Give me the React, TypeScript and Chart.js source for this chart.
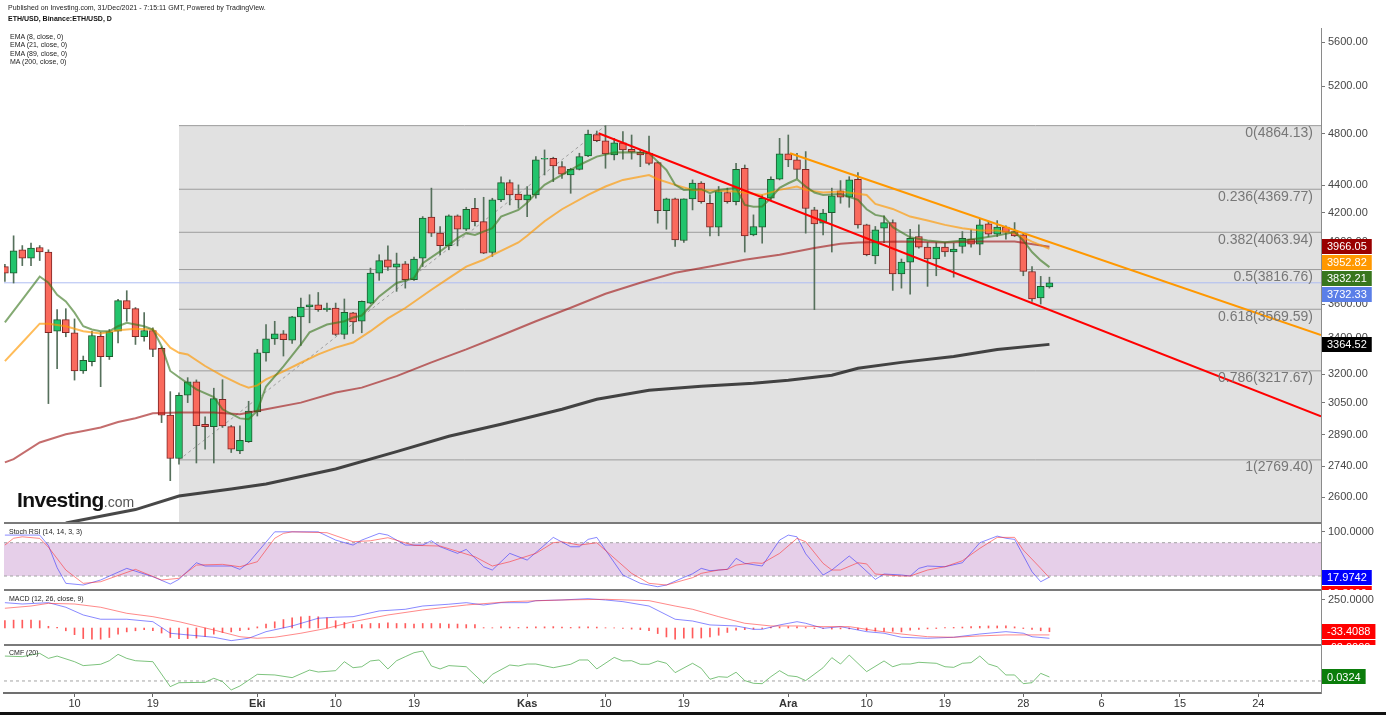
import React, { useEffect, useRef } from 'react';
import { Chart, registerables } from 'chart.js';

Chart.register(...registerables);

const FONT = '"Liberation Sans", Arial, Helvetica, sans-serif';

// ---------- x axis: day index, 0 = 1 Sep 2021 ----------
const xMinDay = 0.897;
const xMaxDay = 152.2;
const xTickDays = [9, 18, 30, 39, 48, 61, 70, 79, 91, 100, 109, 118, 127, 136, 145];
const xTickLabels = ['10', '19', 'Eki', '10', '19', 'Kas', '10', '19', 'Ara', '10', '19', '28', '6', '15', '24'];
const monthLabels = ['Eki', 'Kas', 'Ara'];

// ---------- price axis ----------
const priceMin = 2490;
const priceMax = 5734;
const priceTicks = [2600, 2740, 2890, 3050, 3200, 3400, 3600, 4000, 4200, 4400, 4800, 5200, 5600];

// ---------- daily candles ETH/USD (2 Sep 2021 .. 31 Dec 2021) ----------
const firstCandleDay = 1;
const opens = [3836, 3794, 3946, 3891, 3961, 3931, 3440, 3508, 3431, 3217, 3268, 3411, 3295, 3440, 3622, 3573, 3408, 3444, 3342, 2986, 2776, 3088, 3159, 2940, 2929, 3067, 2929, 2812, 2856, 3002, 3317, 3396, 3425, 3388, 3524, 3583, 3597, 3567, 3577, 3421, 3548, 3498, 3607, 3794, 3880, 3832, 3854, 3752, 3891, 4169, 4058, 3974, 4178, 4085, 4232, 4138, 3928, 4292, 4419, 4335, 4292, 4328, 4597, 4604, 4539, 4476, 4519, 4622, 4791, 4742, 4630, 4726, 4674, 4651, 4643, 4570, 4215, 4299, 4008, 4299, 4415, 4268, 4099, 4346, 4280, 4527, 4046, 4099, 4304, 4444, 4638, 4591, 4519, 4220, 4127, 4201, 4358, 4311, 4444, 4115, 3906, 4092, 4131, 3789, 3865, 4035, 3964, 3885, 3964, 3931, 3968, 4017, 3984, 4122, 4051, 4099, 4069, 4046, 3804, 3638, 3706];
const highs = [3850, 4040, 3974, 3990, 3974, 3946, 3567, 3573, 3512, 3299, 3440, 3434, 3450, 3630, 3683, 3580, 3550, 3460, 3350, 3107, 3101, 3181, 3169, 2978, 3125, 3170, 2935, 2933, 3057, 3336, 3479, 3498, 3444, 3527, 3638, 3658, 3672, 3607, 3607, 3632, 3551, 3620, 3826, 3913, 3972, 3924, 3869, 3898, 4173, 4378, 4104, 4185, 4185, 4239, 4304, 4311, 4304, 4463, 4439, 4402, 4390, 4617, 4669, 4612, 4578, 4527, 4643, 4828, 4820, 4864, 4761, 4815, 4788, 4674, 4780, 4575, 4305, 4305, 4300, 4439, 4426, 4328, 4390, 4378, 4565, 4552, 4185, 4328, 4463, 4761, 4788, 4643, 4656, 4239, 4225, 4378, 4434, 4463, 4495, 4120, 4104, 4178, 4150, 3885, 4085, 4115, 3994, 3994, 3994, 3990, 4069, 4081, 4155, 4138, 4145, 4108, 4131, 4058, 3836, 3773, 3768];
const lows = [3741, 3731, 3842, 3842, 3875, 3045, 3230, 3408, 3168, 3204, 3244, 3133, 3280, 3373, 3498, 3364, 3383, 3295, 2949, 2674, 2750, 3050, 2755, 2820, 2755, 2925, 2804, 2798, 2852, 2982, 3271, 3364, 3299, 3370, 3358, 3489, 3557, 3557, 3415, 3396, 3427, 3431, 3603, 3748, 3811, 3679, 3699, 3748, 3836, 4035, 3913, 3946, 3972, 4076, 4108, 3920, 3902, 4280, 4256, 4232, 4173, 4304, 4476, 4426, 4451, 4340, 4514, 4617, 4734, 4527, 4591, 4597, 4597, 4539, 4552, 4127, 4085, 3968, 3995, 4220, 4268, 4040, 4040, 4268, 4256, 3931, 4040, 3990, 4292, 4439, 4539, 4451, 4058, 3567, 4046, 3931, 4268, 4239, 4092, 3906, 3854, 3994, 3685, 3699, 3662, 3957, 3710, 3777, 3902, 3768, 3924, 3964, 3913, 4035, 4035, 4017, 4035, 3777, 3617, 3601, 3699];
const closes = [3794, 3939, 3891, 3957, 3931, 3431, 3508, 3431, 3217, 3275, 3415, 3295, 3437, 3622, 3571, 3408, 3444, 3336, 2986, 2776, 3088, 3159, 2934, 2929, 3071, 2933, 2820, 2862, 3007, 3317, 3396, 3425, 3392, 3524, 3583, 3597, 3567, 3577, 3421, 3551, 3494, 3618, 3794, 3874, 3832, 3854, 3752, 3885, 4162, 4058, 3974, 4178, 4085, 4225, 4138, 3924, 4292, 4419, 4328, 4292, 4328, 4591, 4604, 4544, 4483, 4519, 4617, 4796, 4742, 4638, 4726, 4669, 4651, 4630, 4565, 4215, 4299, 4012, 4299, 4415, 4280, 4099, 4353, 4280, 4519, 4040, 4104, 4304, 4444, 4638, 4591, 4519, 4230, 4122, 4197, 4321, 4311, 4439, 4115, 3913, 4081, 4131, 3789, 3865, 4023, 3964, 3885, 3964, 3931, 3951, 4023, 3984, 4115, 4051, 4099, 4065, 4040, 3804, 3632, 3710, 3732.33];

// ---------- moving averages [day, value] ----------
const ema8 = [[1, 3491], [3, 3628], [5, 3772], [6, 3733], [7, 3658], [8, 3617], [9, 3549], [10, 3469], [11, 3450], [12, 3440], [13, 3440], [14, 3469], [15, 3489], [16, 3479], [17, 3469], [18, 3450], [19, 3355], [20, 3217], [21, 3183], [23, 3119], [25, 3079], [26, 3016], [28, 2970], [29, 2966], [30, 3007], [31, 3134], [33, 3242], [35, 3364], [36, 3433], [38, 3479], [40, 3498], [41, 3520], [42, 3532], [44, 3648], [46, 3731], [48, 3762], [49, 3858], [51, 3935], [53, 4024], [54, 4058], [55, 4046], [57, 4092], [58, 4173], [60, 4220], [61, 4271], [62, 4340], [63, 4402], [65, 4476], [67, 4552], [69, 4617], [71, 4648], [73, 4651], [75, 4643], [76, 4578], [77, 4514], [78, 4402], [79, 4365], [81, 4370], [82, 4341], [83, 4365], [85, 4380], [86, 4256], [87, 4242], [88, 4244], [89, 4306], [90, 4380], [91, 4414], [92, 4444], [93, 4390], [94, 4346], [95, 4328], [97, 4335], [99, 4292], [100, 4225], [101, 4185], [102, 4173], [103, 4099], [105, 4030], [107, 4008], [109, 3997], [111, 4008], [113, 4024], [115, 4042], [117, 4065], [118, 4008], [119, 3931], [120, 3876], [121, 3832.21]];
const ema21 = [[1, 3271], [3, 3375], [5, 3484], [6, 3484], [8, 3469], [10, 3440], [12, 3427], [14, 3446], [16, 3454], [18, 3450], [19, 3404], [20, 3346], [21, 3317], [22, 3308], [24, 3244], [26, 3190], [28, 3145], [29, 3128], [30, 3140], [31, 3172], [33, 3215], [35, 3262], [37, 3308], [39, 3346], [41, 3375], [43, 3440], [45, 3515], [47, 3577], [50, 3689], [52, 3762], [54, 3836], [56, 3880], [57, 3910], [60, 3995], [61, 4040], [62, 4090], [63, 4140], [65, 4225], [68, 4328], [70, 4390], [72, 4439], [75, 4476], [76, 4444], [78, 4402], [80, 4365], [83, 4358], [85, 4353], [88, 4328], [90, 4365], [92, 4390], [93, 4365], [95, 4346], [97, 4353], [100, 4328], [101, 4263], [103, 4227], [105, 4173], [107, 4145], [109, 4115], [111, 4092], [113, 4076], [115, 4076], [117, 4058], [119, 4001], [121, 3952.82]];
const ema89 = [[1, 2758], [2, 2773], [5, 2852], [8, 2892], [10, 2908], [12, 2925], [14, 2952], [16, 2971], [18, 2996], [21, 2999], [25, 2999], [28, 2991], [31, 3016], [35, 3050], [39, 3102], [42, 3128], [46, 3189], [50, 3264], [54, 3336], [58, 3415], [62, 3498], [66, 3579], [70, 3664], [74, 3733], [78, 3796], [82, 3836], [86, 3880], [90, 3913], [94, 3958], [97, 3986], [99, 3995], [104, 4002], [109, 3995], [113, 4002], [117, 4002], [121, 3966.05]];
const ma200 = [[8, 2490], [16, 2547], [21, 2606], [27, 2637], [31, 2659], [39, 2727], [46, 2808], [52, 2882], [58, 2941], [65, 3016], [69, 3067], [75, 3114], [81, 3135], [87, 3151], [91, 3167], [96, 3194], [99, 3232], [104, 3264], [110, 3297], [115, 3336], [121, 3364.52]];

// ---------- drawings ----------
const fibLevels = [0, 0.236, 0.382, 0.5, 0.618, 0.786, 1];
const fibPrices = [4864.13, 4369.77, 4063.94, 3816.76, 3569.59, 3217.67, 2769.4];
const fibStartDay = 21;
const fibHighDay = 70;
const redTrend = [[69.2, 4802], [152.2, 2980]];
const orangeTrend = [[91.2, 4643], [152.2, 3418]];

// ---------- Stoch RSI (14,14,3,3) ----------
const stochK = [[1, 93.7], [5, 93.7], [6, 75], [7, 35], [8, 6.8], [10, 3.8], [12, 12.8], [15, 33.8], [18, 18.7], [20, 5.6], [21, 14], [23, 43.9], [24, 38], [27, 38], [28, 32], [29, 43.9], [32, 99.6], [37, 99.6], [39, 84.7], [41, 75.7], [42, 84.7], [44, 96.8], [45, 93.7], [47, 75.7], [49, 75.7], [50, 83.5], [51, 72.7], [53, 60.8], [54, 68], [56, 36.7], [57, 30.8], [59, 60.8], [61, 48.7], [64, 89.6], [66, 72.7], [67, 72.7], [68, 86], [69, 89.6], [72, 21.8], [74, 6.8], [76, 0.7], [77, 3.8], [79, 17.6], [80, 24], [81, 33.8], [82, 29.5], [84, 32], [85, 51.8], [86, 42.8], [88, 38], [90, 84.7], [91, 93.7], [92, 90.6], [93, 60], [95, 21.8], [96, 30.8], [98, 56], [99, 42.8], [101, 14], [102, 23.6], [104, 21.8], [105, 20], [106, 33.8], [107, 38], [109, 36.7], [111, 43.9], [113, 79.9], [115, 91.9], [116, 88], [117, 86], [119, 27.7], [120, 9.7], [121, 17.9742]];
const stochD = [[1, 75.7], [2, 88], [3, 90.6], [5, 87.8], [6, 72], [8, 30.8], [10, 6.8], [12, 9.7], [16, 32], [19, 12.8], [21, 15.8], [23, 39.7], [26, 41], [28, 36.7], [30, 45.7], [32, 88], [33, 96.8], [34, 99.6], [38, 98], [41, 81.7], [43, 83.5], [45, 89], [48, 75.2], [51, 74], [55, 54.7], [57, 38], [59, 45.7], [62, 60.8], [64, 80], [65, 81.7], [67, 75.7], [69, 79.9], [73, 24.8], [75, 6.8], [77, 3.8], [80, 17], [81, 24.8], [83, 30.8], [84, 32], [85, 39.7], [87, 43.9], [88, 42.8], [90, 60.8], [92, 87.8], [93, 81.7], [95, 42.8], [96, 30.8], [97, 30.8], [99, 43.9], [100, 41.8], [101, 23.6], [104, 20], [105, 20], [107, 30.8], [109, 36.7], [111, 47.5], [113, 69.8], [115, 89.6], [117, 89.6], [118, 66.7], [120, 33.8], [121, 16.8]];
const stochBand = [20, 80];
const stochTicks = [100];

// ---------- MACD (12,26,close,9) ----------
const macdLine = [[1, 226], [3, 214], [6, 226], [8, 185], [10, 116], [12, 78], [15, 78], [18, 56], [20, -47], [22, -62], [25, -83], [27, -113], [29, -92], [31, -33], [34, 18], [37, 87], [39, 96], [41, 101], [44, 152], [47, 167], [49, 196], [52, 212], [54, 226], [56, 205], [58, 226], [61, 226], [62, 244], [65, 250], [68, 262], [70, 250], [72, 235], [75, 196], [78, 78], [80, 62], [82, 27], [85, 18], [87, -12], [88, -12], [90, 27], [92, 56], [93, 42], [95, -3], [97, 12], [100, -33], [102, -47], [104, -83], [107, -92], [110, -83], [113, -54], [116, -33], [118, -47], [119, -78], [121, -92]];
const macdSignal = [[1, 176], [4, 196], [6, 220], [9, 214], [12, 185], [15, 131], [18, 101], [21, 56], [25, -18], [28, -78], [30, -92], [32, -83], [35, -47], [38, -3], [41, 56], [45, 116], [49, 161], [54, 205], [59, 235], [65, 250], [70, 256], [75, 244], [78, 196], [80, 167], [83, 101], [86, 42], [89, 18], [92, 18], [95, 12], [98, 12], [101, -24], [104, -54], [107, -78], [110, -83], [113, -71], [116, -62], [121, -62]];
const macdHist = [65, 70, 70, 70, 65, 15, 5, -25, -60, -95, -100, -100, -85, -55, -35, -25, -15, -25, -45, -85, -95, -95, -90, -75, -55, -40, -35, -25, -15, 10, 35, 55, 75, 90, 100, 105, 100, 90, 65, 50, 35, 30, 40, 40, 45, 40, 40, 35, 40, 40, 40, 35, 35, 30, 30, 3, 2, 10, 8, 5, 8, 10, 10, 12, 8, 5, 10, 10, 8, 2, 1, -5, -10, -15, -25, -50, -80, -100, -90, -90, -90, -80, -65, -40, -20, -15, -10, -5, 5, 10, 12, 10, 5, -5, -5, -10, -8, -8, -15, -25, -28, -30, -30, -35, -20, -12, -8, -5, 3, 5, 8, 12, 15, 18, 18, 20, 10, -5, -12, -25, -33.4088];
const macdTicks = [250];

// ---------- CMF (20) ----------
const cmf = [[1, 0.203], [3, 0.198], [5, 0.225], [6, 0.184], [7, 0.203], [9, 0.157], [10, 0.125], [12, 0.136], [13, 0.165], [14, 0.217], [15, 0.184], [16, 0.165], [18, 0.157], [20, -0.046], [21, -0.014], [24, -0.011], [25, 0.022], [26, -0.005], [27, -0.073], [28, -0.041], [30, 0.054], [32, 0.049], [34, 0.027], [36, 0.089], [37, 0.073], [39, 0.084], [40, 0.157], [41, 0.108], [42, 0.116], [43, 0.163], [44, 0.171], [45, 0.098], [46, 0.165], [47, 0.198], [48, 0.23], [49, 0.244], [50, 0.122], [51, 0.098], [52, 0.125], [54, 0.116], [56, -0.019], [57, 0.054], [59, 0.13], [60, 0.122], [61, 0.138], [62, 0.138], [64, 0.108], [66, 0.136], [67, 0.171], [68, 0.171], [69, 0.098], [71, 0.192], [72, 0.163], [73, 0.165], [74, 0.136], [75, 0.136], [76, 0.163], [77, 0.144], [78, 0.068], [80, 0.144], [81, 0.103], [82, 0.014], [83, 0.035], [84, 0.03], [85, 0.071], [86, 0.003], [87, -0.019], [88, -0.022], [89, 0.035], [90, 0.084], [91, 0.043], [92, 0.035], [93, 0.003], [95, 0.108], [96, 0.19], [97, 0.138], [98, 0.211], [100, 0.076], [102, 0.163], [103, 0.116], [104, 0.138], [105, 0.138], [106, 0.152], [108, 0.144], [109, 0.116], [110, 0.111], [111, 0.144], [112, 0.149], [113, 0.203], [114, 0.138], [115, 0.116], [116, 0.049], [117, 0.049], [118, -0.022], [119, -0.014], [120, 0.062], [121, 0.0324]];

const UP = '#22c46c';
const DOWN = '#fa6a5d';

const pts = (arr: number[][]) => arr.map(([x, y]) => ({ x, y }));
const last = (arr: number[][]) => arr[arr.length - 1][1];

function drawBoxes(chart: any, sc: any, items: { v: number; t: string; bg: string }[]) {
  const ctx = chart.ctx;
  ctx.save();
  ctx.beginPath();
  ctx.rect(sc.left, sc.top, chart.width - sc.left, sc.bottom - sc.top);
  ctx.clip();
  ctx.font = `11px ${FONT}`;
  ctx.textBaseline = 'middle';
  ctx.textAlign = 'left';
  let prev = -1e9;
  items
    .slice()
    .sort((a, b) => b.v - a.v)
    .forEach((it) => {
      const cy = Math.max(sc.getPixelForValue(it.v), prev + 16);
      prev = cy;
      const tw = ctx.measureText(it.t).width;
      ctx.fillStyle = it.bg;
      ctx.fillRect(sc.left + 1, Math.round(cy - 7.5), tw + 10, 15);
      ctx.fillStyle = '#ffffff';
      ctx.fillText(it.t, sc.left + 6, cy + 0.5);
    });
  ctx.restore();
}

const overlayPlugin = {
  id: 'overlayPlugin',
  afterDatasetsDraw(chart: any) {
    const { ctx, chartArea } = chart;
    const y = chart.scales.y;
    ctx.save();
    ctx.beginPath();
    ctx.rect(chartArea.left, y.top, chartArea.right - chartArea.left, y.bottom - y.top);
    ctx.clip();
    ctx.font = `14px ${FONT}`;
    ctx.fillStyle = '#777777';
    ctx.textAlign = 'right';
    ctx.textBaseline = 'middle';
    fibLevels.forEach((lv, i) => {
      const py = y.getPixelForValue(fibPrices[i]);
      ctx.fillText(`${lv}(${fibPrices[i].toFixed(2)})`, chartArea.right - 8, py + 7.5);
    });
    ctx.restore();
  },
  afterDraw(chart: any) {
    const { ctx, chartArea } = chart;
    const s = chart.scales;
    ctx.save();
    ctx.strokeStyle = '#7a7a7a';
    ctx.lineWidth = 2;
    [s.y, s.ys, s.ym].forEach((sc: any) => {
      ctx.beginPath();
      ctx.moveTo(chartArea.left, sc.bottom);
      ctx.lineTo(chartArea.right, sc.bottom);
      ctx.stroke();
    });
    ctx.restore();
    drawBoxes(chart, s.y, [
      { v: last(ema89), t: last(ema89).toFixed(2), bg: '#990000' },
      { v: last(ema21), t: last(ema21).toFixed(2), bg: '#ff9800' },
      { v: last(ema8), t: last(ema8).toFixed(2), bg: '#38761d' },
      { v: closes[closes.length - 1], t: closes[closes.length - 1].toFixed(2), bg: '#5b7fe8' },
      { v: last(ma200), t: last(ma200).toFixed(2), bg: '#000000' },
    ]);
    drawBoxes(chart, s.ys, [
      { v: last(stochK), t: last(stochK).toFixed(4), bg: '#0000ff' },
      { v: last(stochD), t: last(stochD).toFixed(4), bg: '#ff0000' },
    ]);
    drawBoxes(chart, s.ym, [
      { v: macdHist[macdHist.length - 1], t: macdHist[macdHist.length - 1].toFixed(4), bg: '#ff0000' },
      { v: last(macdSignal), t: last(macdSignal).toFixed(4), bg: '#ff0000' },
      { v: last(macdLine), t: last(macdLine).toFixed(4), bg: '#0000ff' },
    ]);
    drawBoxes(chart, s.yc, [{ v: last(cmf), t: last(cmf).toFixed(4), bg: '#0b7d0b' }]);
  },
};

function yAxis(extra: any) {
  return {
    position: 'right',
    stack: 'panes',
    clip: true,
    grid: { drawOnChartArea: false, drawTicks: true, tickLength: 4, color: '#777777' },
    border: { display: true, color: '#8a8a8a', width: 1 },
    ticks: { autoSkip: false, font: { size: 11, family: FONT }, color: '#474747', padding: 3 },
    afterFit: (sc: any) => {
      sc.width = 65;
    },
    ...extra,
  };
}

export default function App() {
  const ref = useRef<HTMLCanvasElement>(null);

  useEffect(() => {
    if (!ref.current) return;
    Chart.defaults.font.family = FONT;
    const days = closes.map((_, i) => firstCandleDay + i);
    const hLine = (v: number, from: number) => [
      { x: from, y: v },
      { x: xMaxDay, y: v },
    ];
    const line = (data: any[], yAxisID: string, color: string, width: number, order: number, extra: any = {}) => ({
      type: 'line',
      data,
      yAxisID,
      xAxisID: 'x',
      borderColor: color,
      borderWidth: width,
      pointRadius: 0,
      pointHoverRadius: 0,
      fill: false,
      tension: 0,
      order,
      ...extra,
    });

    const datasets: any[] = [
      // fib background + levels
      line(hLine(fibPrices[0], fibStartDay), 'y', '#9c9c9c', 1, 40, { fill: 'start', backgroundColor: '#e1e1e1' }),
      ...fibPrices.slice(1).map((p) => line(hLine(p, fibStartDay), 'y', '#9c9c9c', 1, 39)),
      line(pts([[fibStartDay, fibPrices[6]], [fibHighDay, fibPrices[0]]]), 'y', '#a0a0a0', 1, 38, { borderDash: [3, 3] }),
      line(hLine(closes[closes.length - 1], xMinDay), 'y', '#aebdf3', 1, 37),
      // candles
      {
        type: 'bar',
        data: days.map((d, i) => ({ x: d, y: [lows[i], highs[i]] })),
        yAxisID: 'y',
        xAxisID: 'x',
        backgroundColor: '#56705c',
        barThickness: 1,
        grouped: false,
        order: 12,
      },
      {
        type: 'bar',
        data: days.map((d, i) => ({ x: d, y: [opens[i], closes[i]] })),
        yAxisID: 'y',
        xAxisID: 'x',
        backgroundColor: closes.map((c, i) => (c >= opens[i] ? UP : DOWN)),
        borderColor: closes.map((c, i) => (c >= opens[i] ? '#1f5a2e' : '#7d2525')),
        borderWidth: 1,
        borderSkipped: false,
        barThickness: 7,
        grouped: false,
        order: 11,
      },
      // moving averages
      line(pts(ma200), 'y', 'rgba(20,20,20,0.78)', 3, 8),
      line(pts(ema89), 'y', 'rgba(160,20,20,0.62)', 2, 7),
      line(pts(ema21), 'y', 'rgba(255,152,0,0.65)', 2, 6),
      line(pts(ema8), 'y', 'rgba(56,118,29,0.62)', 2, 5),
      // trend lines
      line(pts(redTrend), 'y', '#ff0000', 2, 3),
      line(pts(orangeTrend), 'y', '#ff9800', 2, 3),
      // stoch rsi
      line(hLine(stochBand[1], xMinDay), 'ys', '#a3a3a3', 1, 40, {
        borderDash: [3, 3],
        fill: { value: stochBand[0] },
        backgroundColor: '#e6cfe9',
      }),
      line(hLine(stochBand[0], xMinDay), 'ys', '#a3a3a3', 1, 39, { borderDash: [3, 3] }),
      line(pts(stochK), 'ys', 'rgba(40,40,255,0.55)', 1, 5),
      line(pts(stochD), 'ys', 'rgba(255,40,40,0.55)', 1, 4),
      // macd
      {
        type: 'bar',
        data: days.map((d, i) => ({ x: d, y: macdHist[i] })),
        yAxisID: 'ym',
        xAxisID: 'x',
        backgroundColor: 'rgba(255,50,50,0.8)',
        barThickness: 1,
        grouped: false,
        order: 10,
      },
      line(pts(macdLine), 'ym', 'rgba(40,40,255,0.55)', 1, 5),
      line(pts(macdSignal), 'ym', 'rgba(255,40,40,0.55)', 1, 4),
      // cmf
      line(hLine(0, xMinDay), 'yc', '#a3a3a3', 1, 39, { borderDash: [3, 3] }),
      line(pts(cmf), 'yc', 'rgba(70,170,70,0.7)', 1, 5),
    ];

    const chart = new Chart(ref.current, {
      type: 'bar',
      data: { datasets },
      plugins: [overlayPlugin],
      options: {
        responsive: false,
        animation: false,
        events: [],
        layout: { padding: { left: 4, top: 28, right: 0, bottom: 0 } },
        plugins: { legend: { display: false }, tooltip: { enabled: false } },
        scales: {
          x: {
            type: 'linear',
            position: 'bottom',
            min: xMinDay,
            max: xMaxDay,
            offset: false,
            afterBuildTicks: (sc: any) => {
              sc.ticks = xTickDays.map((v) => ({ value: v }));
            },
            ticks: {
              autoSkip: false,
              maxRotation: 0,
              minRotation: 0,
              padding: 0,
              color: '#333333',
              callback: (_v: any, i: number) => xTickLabels[i],
              font: (c: any) => ({
                size: 11,
                family: FONT,
                weight: monthLabels.includes(xTickLabels[c.index]) ? 'bold' : 'normal',
              }),
            },
            grid: { drawOnChartArea: false, drawTicks: true, tickLength: 4, color: '#666666', offset: false },
            border: { display: true, color: '#707070', width: 2 },
            afterFit: (sc: any) => {
              sc.height = 22;
            },
          },
          y: yAxis({
            type: 'logarithmic',
            stackWeight: 495,
            min: priceMin,
            max: priceMax,
            afterBuildTicks: (sc: any) => {
              sc.ticks = priceTicks.map((v) => ({ value: v }));
            },
            ticks: {
              autoSkip: false,
              font: { size: 11, family: FONT },
              color: '#474747',
              padding: 3,
              callback: (v: any) => Number(v).toFixed(2),
            },
          }),
          ys: yAxis({
            type: 'linear',
            stackWeight: 67,
            min: -5.2,
            max: 115.5,
            afterBuildTicks: (sc: any) => {
              sc.ticks = stochTicks.map((v) => ({ value: v }));
            },
            ticks: {
              autoSkip: false,
              font: { size: 11, family: FONT },
              color: '#474747',
              padding: 3,
              callback: (v: any) => Number(v).toFixed(4),
            },
          }),
          ym: yAxis({
            type: 'linear',
            stackWeight: 55,
            min: -152,
            max: 339,
            afterBuildTicks: (sc: any) => {
              sc.ticks = macdTicks.map((v) => ({ value: v }));
            },
            ticks: {
              autoSkip: false,
              font: { size: 11, family: FONT },
              color: '#474747',
              padding: 3,
              callback: (v: any) => Number(v).toFixed(4),
            },
          }),
          yc: yAxis({
            type: 'linear',
            stackWeight: 48,
            min: -0.098,
            max: 0.293,
            grid: { drawOnChartArea: false, drawTicks: false, color: '#777777' },
            ticks: { display: false },
          }),
        },
      } as any,
    } as any);
    return () => chart.destroy();
  }, []);

  const small: React.CSSProperties = {
    position: 'absolute',
    fontFamily: FONT,
    fontSize: 7,
    lineHeight: '8px',
    color: '#222',
    whiteSpace: 'nowrap',
  };

  return (
    <div style={{ position: 'fixed', left: 0, top: 0, width: 1386, height: 715, background: '#ffffff', overflow: 'hidden' }}>
      <canvas ref={ref} width={1386} height={715} style={{ position: 'absolute', left: 0, top: 0, width: 1386, height: 715 }} />
      <div style={{ ...small, left: 8, top: 4 }}>Published on Investing.com, 31/Dec/2021 - 7:15:11 GMT, Powered by TradingView.</div>
      <div style={{ ...small, left: 8, top: 15, fontWeight: 'bold', color: '#111' }}>ETH/USD, Binance:ETH/USD, D</div>
      <div style={{ ...small, left: 10, top: 33 }}>EMA (8, close, 0)</div>
      <div style={{ ...small, left: 10, top: 41 }}>EMA (21, close, 0)</div>
      <div style={{ ...small, left: 10, top: 50 }}>EMA (89, close, 0)</div>
      <div style={{ ...small, left: 10, top: 58 }}>MA (200, close, 0)</div>
      <div style={{ ...small, left: 9, top: 528 }}>Stoch RSI (14, 14, 3, 3)</div>
      <div style={{ ...small, left: 9, top: 595 }}>MACD (12, 26, close, 9)</div>
      <div style={{ ...small, left: 9, top: 649 }}>CMF (20)</div>
      <div style={{ position: 'absolute', left: 17, top: 489, display: 'flex', alignItems: 'baseline', fontFamily: FONT, whiteSpace: 'nowrap' }}>
        <span style={{ fontSize: 21, fontWeight: 'bold', color: '#111', letterSpacing: -0.6, lineHeight: '21px' }}>Investing</span>
        <span style={{ fontSize: 14, color: '#555', lineHeight: '21px' }}>.com</span>
      </div>
      <div style={{ position: 'absolute', left: 0, top: 712, width: 1386, height: 3, background: '#111' }} />
    </div>
  );
}
